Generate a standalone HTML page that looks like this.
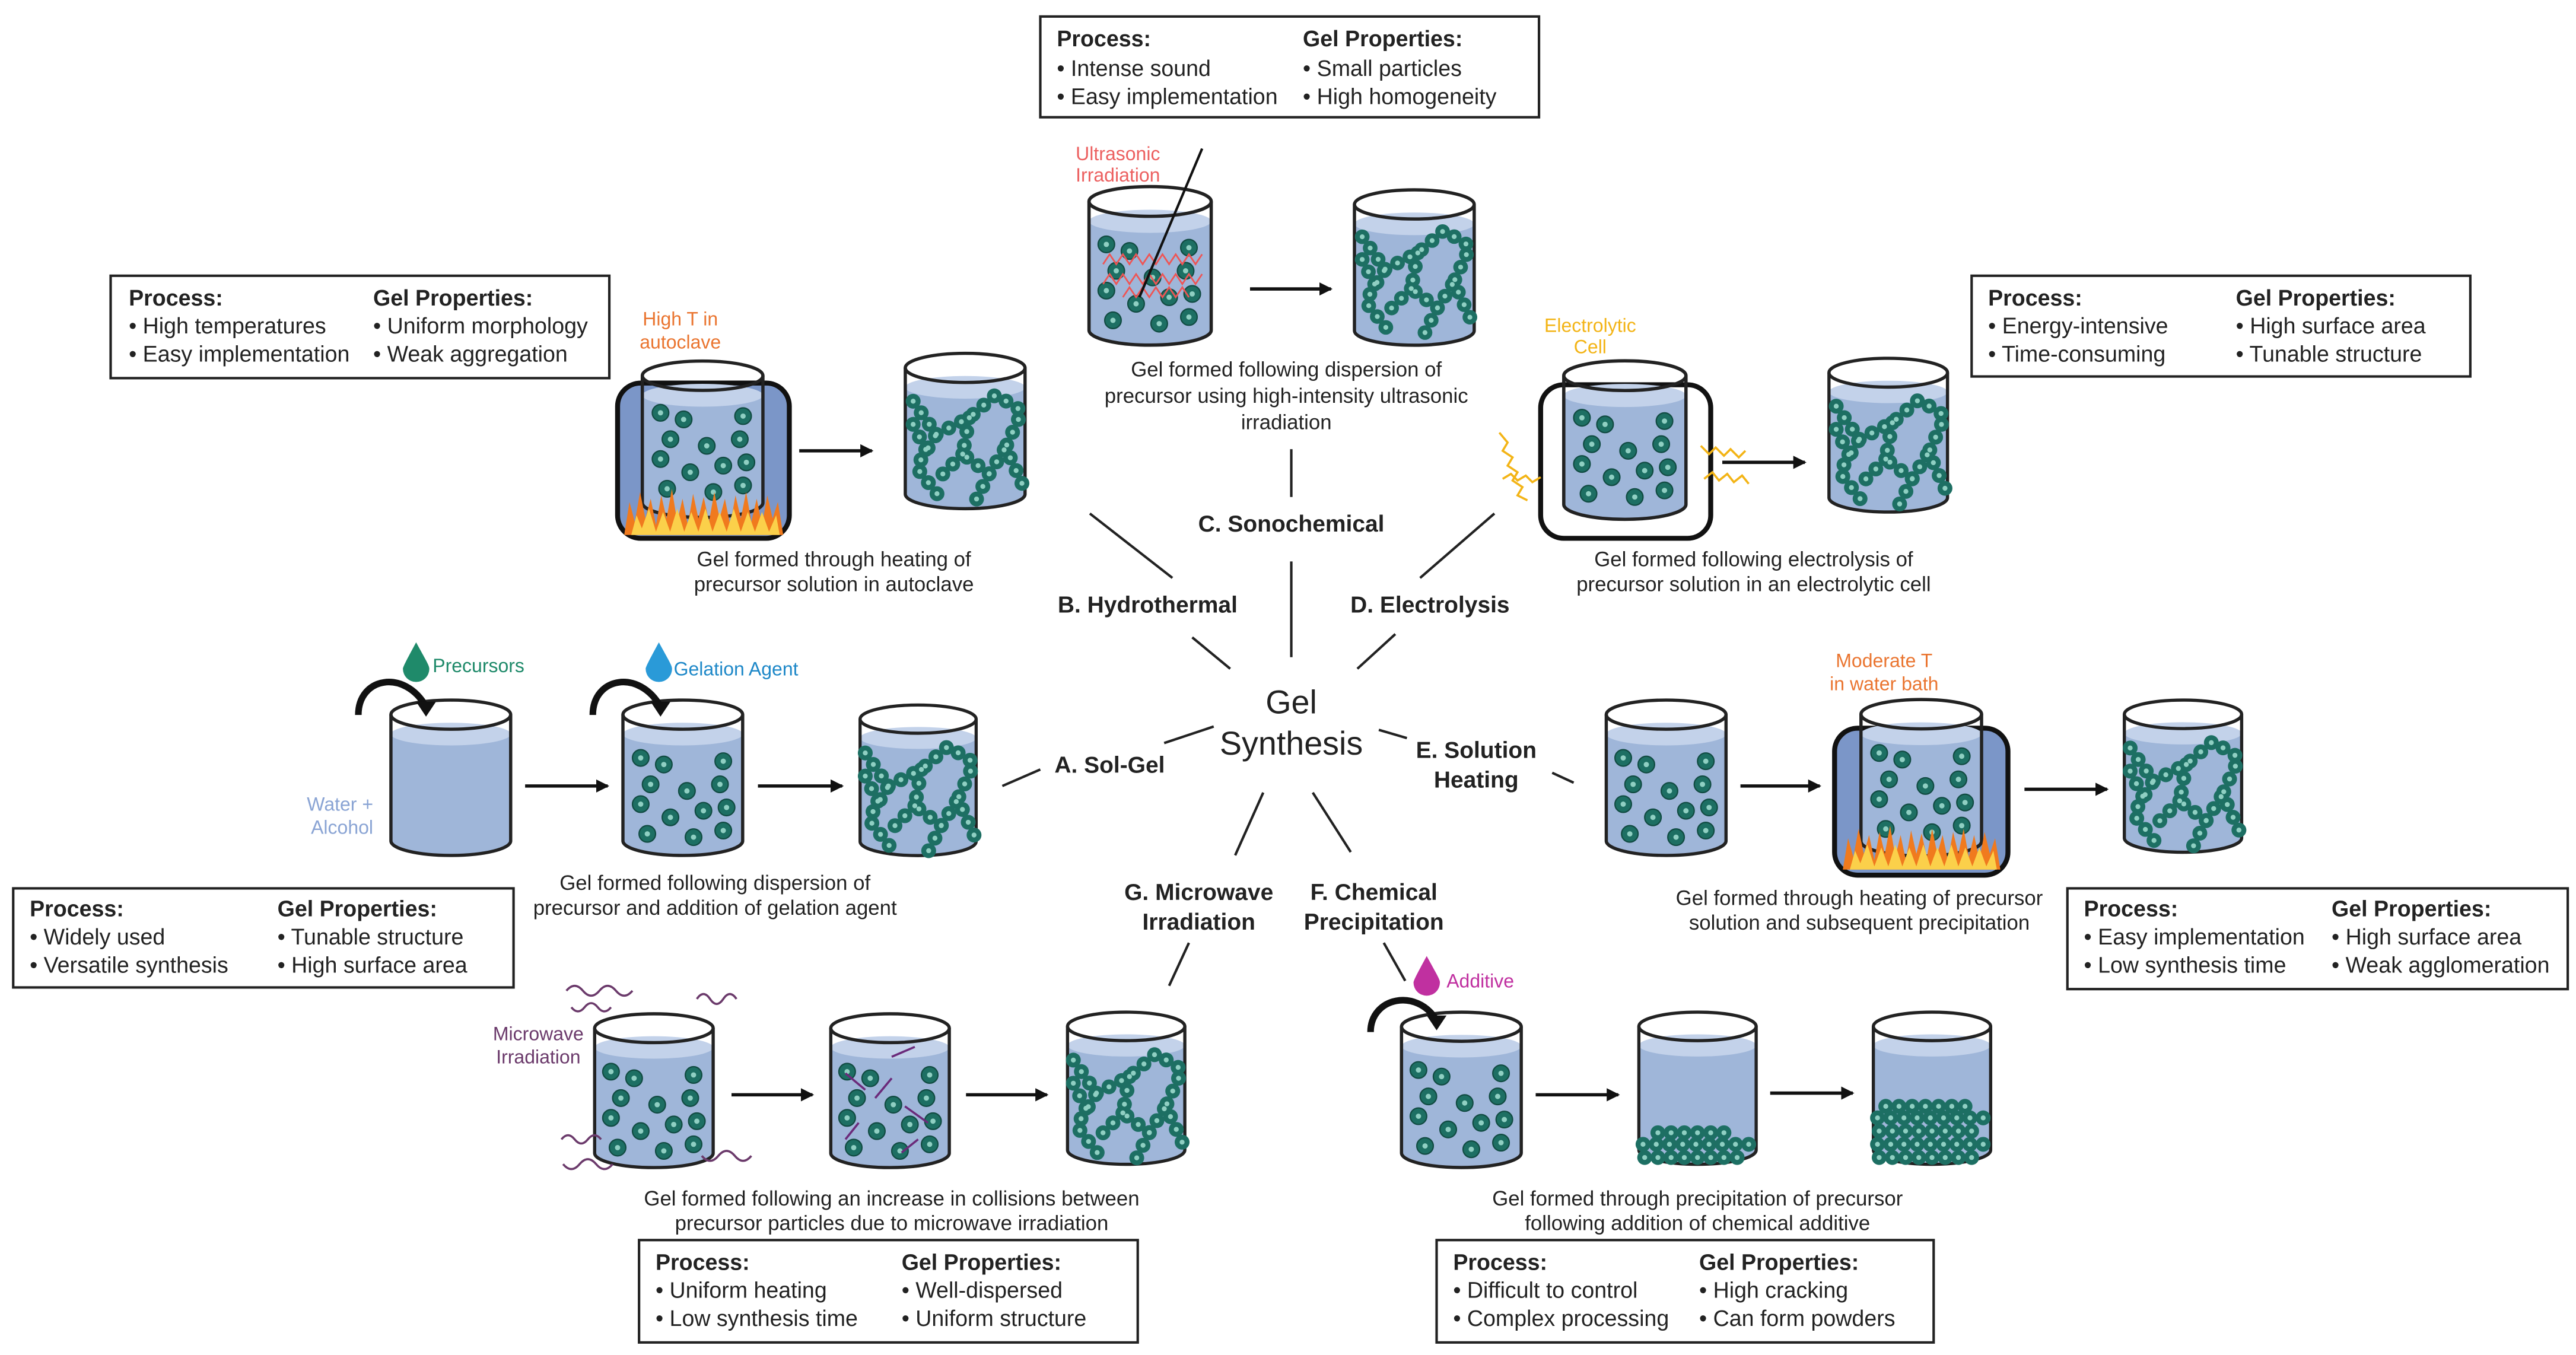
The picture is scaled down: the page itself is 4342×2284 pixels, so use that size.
<!DOCTYPE html>
<html><head><meta charset="utf-8">
<style>
html,body{margin:0;padding:0;background:#fff;}
svg{display:block;}
text{font-family:"Liberation Sans",sans-serif;fill:#222;}
.bt{font-size:13.5px;}
.bb{font-size:13.5px;font-weight:bold;}
.cap{font-size:12.5px;text-anchor:middle;}
.lab{font-size:14px;font-weight:bold;text-anchor:middle;}
.col{font-size:11.5px;}
</style></head><body>
<svg width="4342" height="2284" viewBox="0 0 1560 820.6" xmlns="http://www.w3.org/2000/svg">
<defs>
<marker id="ah" markerWidth="8" markerHeight="8" refX="7" refY="4" orient="auto" markerUnits="userSpaceOnUse">
<path d="M0,0 L8,4 L0,8 Z" fill="#111"/></marker>
<symbol id="bk" viewBox="0 0 76 100" overflow="visible">
<path d="M1,22 L1,88 A37,9 0 0 0 75,88 L75,22 Z" fill="#9fb6d9"/>
<ellipse cx="38" cy="22" rx="37" ry="7" fill="#c3d2ea"/>
<path d="M1,10 L1,88 A37,9 0 0 0 75,88 L75,10" fill="none" stroke="#222" stroke-width="2"/>
<ellipse cx="38" cy="10" rx="37" ry="9" fill="none" stroke="#222" stroke-width="2"/>
</symbol>
<symbol id="pt" viewBox="-6 -6 12 12" overflow="visible">
<circle r="5" fill="#1d6f63" stroke="#114b42" stroke-width="0.8"/>
<circle r="1.6" fill="#8fcfc2"/>
</symbol>
<g id="disp">
<use href="#pt" x="6" y="30" width="12" height="12"/><use href="#pt" x="20" y="34" width="12" height="12"/>
<use href="#pt" x="56" y="32" width="12" height="12"/><use href="#pt" x="12" y="46" width="12" height="12"/>
<use href="#pt" x="34" y="50" width="12" height="12"/><use href="#pt" x="54" y="46" width="12" height="12"/>
<use href="#pt" x="6" y="58" width="12" height="12"/><use href="#pt" x="24" y="66" width="12" height="12"/>
<use href="#pt" x="44" y="62" width="12" height="12"/><use href="#pt" x="58" y="60" width="12" height="12"/>
<use href="#pt" x="10" y="76" width="12" height="12"/><use href="#pt" x="38" y="78" width="12" height="12"/>
<use href="#pt" x="56" y="74" width="12" height="12"/>
</g>
<g id="net" fill="none" stroke-linecap="round">
<path d="M6,30 L20,50 L8,70 L22,88 M20,50 L40,40 L56,26 L72,36 L62,58 L72,80 M40,40 L36,62 L52,74 L62,58 M36,62 L22,76 M52,74 L44,90 M6,44 L14,60" stroke="#1d6f63" stroke-width="9" stroke-dasharray="0 8.5"/>
<path d="M6,30 L20,50 L8,70 L22,88 M20,50 L40,40 L56,26 L72,36 L62,58 L72,80 M40,40 L36,62 L52,74 L62,58 M36,62 L22,76 M52,74 L44,90 M6,44 L14,60" stroke="#8fcfc2" stroke-width="3" stroke-dasharray="0 8.5"/>
</g>
<g id="sett" fill="none" stroke-linecap="round">
<path d="M6,91 L70,91 M5,83 L71,83 M14,76 L62,76" stroke="#1d6f63" stroke-width="9" stroke-dasharray="0 8"/>
<path d="M6,91 L70,91 M5,83 L71,83 M14,76 L62,76" stroke="#8fcfc2" stroke-width="3" stroke-dasharray="0 8"/>
</g>
<g id="sett2" fill="none" stroke-linecap="round">
<path d="M6,91 L70,91 M5,83 L71,83 M6,75 L70,75 M5,67 L71,67 M10,60 L66,60" stroke="#1d6f63" stroke-width="9" stroke-dasharray="0 8"/>
<path d="M6,91 L70,91 M5,83 L71,83 M6,75 L70,75 M5,67 L71,67 M10,60 L66,60" stroke="#8fcfc2" stroke-width="3" stroke-dasharray="0 8"/>
</g>
<g id="flame">
<path d="M0,28 L3,8 L6,20 L9,2 L12,18 L15,6 L18,22 L21,4 L24,18 L27,0 L30,20 L33,6 L36,22 L39,3 L42,18 L45,5 L48,20 L51,2 L54,18 L57,6 L60,22 L63,4 L66,18 L69,2 L72,20 L75,6 L78,22 L81,4 L84,18 L87,8 L90,28 Z" fill="#f07a1e"/>
<path d="M4,28 L7,16 L10,24 L14,12 L18,26 L22,14 L26,26 L30,12 L34,26 L38,14 L42,26 L46,12 L50,26 L54,14 L58,26 L62,12 L66,26 L70,14 L74,26 L78,14 L82,26 L86,16 L88,28 Z" fill="#fbd04a"/>
</g>
</defs>

<!-- Boxes -->
<g>
<rect x="630" y="10" width="302" height="61" fill="#fff" stroke="#222" stroke-width="1.5"/>
<text class="bb" x="640" y="28">Process:</text><text class="bt" x="640" y="46">• Intense sound</text><text class="bt" x="640" y="63">• Easy implementation</text>
<text class="bb" x="789" y="28">Gel Properties:</text><text class="bt" x="789" y="46">• Small particles</text><text class="bt" x="789" y="63">• High homogeneity</text>

<rect x="67" y="167" width="302" height="62" fill="#fff" stroke="#222" stroke-width="1.5"/>
<text class="bb" x="78" y="185">Process:</text><text class="bt" x="78" y="202">• High temperatures</text><text class="bt" x="78" y="219">• Easy implementation</text>
<text class="bb" x="226" y="185">Gel Properties:</text><text class="bt" x="226" y="202">• Uniform morphology</text><text class="bt" x="226" y="219">• Weak aggregation</text>

<rect x="1194" y="167" width="302" height="61" fill="#fff" stroke="#222" stroke-width="1.5"/>
<text class="bb" x="1204" y="185">Process:</text><text class="bt" x="1204" y="202">• Energy-intensive</text><text class="bt" x="1204" y="219">• Time-consuming</text>
<text class="bb" x="1354" y="185">Gel Properties:</text><text class="bt" x="1354" y="202">• High surface area</text><text class="bt" x="1354" y="219">• Tunable structure</text>

<rect x="8" y="538" width="303" height="60" fill="#fff" stroke="#222" stroke-width="1.5"/>
<text class="bb" x="18" y="555">Process:</text><text class="bt" x="18" y="572">• Widely used</text><text class="bt" x="18" y="589">• Versatile synthesis</text>
<text class="bb" x="168" y="555">Gel Properties:</text><text class="bt" x="168" y="572">• Tunable structure</text><text class="bt" x="168" y="589">• High surface area</text>

<rect x="1252" y="538" width="303" height="61" fill="#fff" stroke="#222" stroke-width="1.5"/>
<text class="bb" x="1262" y="555">Process:</text><text class="bt" x="1262" y="572">• Easy implementation</text><text class="bt" x="1262" y="589">• Low synthesis time</text>
<text class="bb" x="1412" y="555">Gel Properties:</text><text class="bt" x="1412" y="572">• High surface area</text><text class="bt" x="1412" y="589">• Weak agglomeration</text>

<rect x="387" y="751" width="302" height="62" fill="#fff" stroke="#222" stroke-width="1.5"/>
<text class="bb" x="397" y="769">Process:</text><text class="bt" x="397" y="786">• Uniform heating</text><text class="bt" x="397" y="803">• Low synthesis time</text>
<text class="bb" x="546" y="769">Gel Properties:</text><text class="bt" x="546" y="786">• Well-dispersed</text><text class="bt" x="546" y="803">• Uniform structure</text>

<rect x="870" y="751" width="301" height="62" fill="#fff" stroke="#222" stroke-width="1.5"/>
<text class="bb" x="880" y="769">Process:</text><text class="bt" x="880" y="786">• Difficult to control</text><text class="bt" x="880" y="803">• Complex processing</text>
<text class="bb" x="1029" y="769">Gel Properties:</text><text class="bt" x="1029" y="786">• High cracking</text><text class="bt" x="1029" y="803">• Can form powders</text>
</g>

<!-- Center -->
<text x="782" y="432" font-size="20" text-anchor="middle">Gel</text>
<text x="782" y="457" font-size="20" text-anchor="middle">Synthesis</text>
<text class="lab" x="782" y="322">C. Sonochemical</text>
<text class="lab" x="695" y="371">B. Hydrothermal</text>
<text class="lab" x="866" y="371">D. Electrolysis</text>
<text class="lab" x="672" y="468">A. Sol-Gel</text>
<text class="lab" x="894" y="459">E. Solution</text><text class="lab" x="894" y="477">Heating</text>
<text class="lab" x="726" y="545">G. Microwave</text><text class="lab" x="726" y="563">Irradiation</text>
<text class="lab" x="832" y="545">F. Chemical</text><text class="lab" x="832" y="563">Precipitation</text>
<g stroke="#222" stroke-width="1.5">
<line x1="782" y1="272" x2="782" y2="301"/><line x1="782" y1="340" x2="782" y2="398"/>
<line x1="660" y1="311" x2="710" y2="350"/><line x1="722" y1="386" x2="745" y2="405"/>
<line x1="905" y1="311" x2="860" y2="350"/><line x1="845" y1="384" x2="822" y2="405"/>
<line x1="607" y1="476" x2="630" y2="466"/><line x1="705" y1="450" x2="735" y2="440"/>
<line x1="835" y1="442" x2="852" y2="447"/><line x1="940" y1="468" x2="953" y2="474"/>
<line x1="765" y1="480" x2="748" y2="518"/><line x1="720" y1="571" x2="708" y2="597"/>
<line x1="795" y1="480" x2="818" y2="516"/><line x1="838" y1="571" x2="851" y2="594"/>
</g>

<!-- Arrows -->
<g stroke="#111" stroke-width="2" marker-end="url(#ah)">
<line x1="757" y1="175" x2="806" y2="175"/>
<line x1="484" y1="273" x2="528" y2="273"/>
<line x1="1043" y1="280" x2="1093" y2="280"/>
<line x1="318" y1="476" x2="368" y2="476"/>
<line x1="459" y1="476" x2="510" y2="476"/>
<line x1="1054" y1="476" x2="1102" y2="476"/>
<line x1="1226" y1="478" x2="1276" y2="478"/>
<line x1="443" y1="663" x2="492" y2="663"/>
<line x1="585" y1="663" x2="634" y2="663"/>
<line x1="930" y1="663" x2="980" y2="663"/>
<line x1="1072" y1="662" x2="1122" y2="662"/>
</g>

<!-- Sonochemical -->
<use href="#bk" x="658" y="112" width="77" height="100"/>
<use href="#disp" transform="translate(658,112)"/>
<path d="M668,160 l4,-6 l4,6 l4,-6 l4,6 l4,-6 l4,6 l4,-6 l4,6 l4,-6 l4,6 l4,-6 l4,6 l4,-6 l4,6 l4,-6 M668,172 l4,-6 l4,6 l4,-6 l4,6 l4,-6 l4,6 l4,-6 l4,6 l4,-6 l4,6 l4,-6 l4,6 l4,-6 l4,6 l4,-6 M680,180 l4,-6 l4,6 l4,-6 l4,6 l4,-6 l4,6 l4,-6 l4,6 l4,-6 l4,6" fill="none" stroke="#ee5555" stroke-width="1"/>
<line x1="728" y1="90" x2="690" y2="180" stroke="#111" stroke-width="1.5"/>
<text class="col" x="677" y="97" text-anchor="middle" style="fill:#ec6060">Ultrasonic</text>
<text class="col" x="677" y="110" text-anchor="middle" style="fill:#ec6060">Irradiation</text>
<use href="#bk" x="819" y="114" width="75" height="98"/>
<use href="#net" transform="translate(819,114) scale(0.99,0.98)"/>
<text class="cap" x="779" y="228">Gel formed following dispersion of</text>
<text class="cap" x="779" y="244">precursor using high-intensity ultrasonic</text>
<text class="cap" x="779" y="260">irradiation</text>

<!-- Hydrothermal -->
<rect x="374" y="232" width="104" height="94" rx="14" fill="#7b96c8" stroke="#111" stroke-width="3"/>
<use href="#bk" x="388" y="214" width="75" height="106"/>
<use href="#disp" transform="translate(388,214)"/>
<use href="#flame" transform="translate(378,296) scale(1.07,1)"/>
<text class="col" x="412" y="197" text-anchor="middle" style="fill:#ea7530">High T in</text>
<text class="col" x="412" y="211" text-anchor="middle" style="fill:#ea7530">autoclave</text>
<use href="#bk" x="547" y="213" width="75" height="98"/>
<use href="#net" transform="translate(547,213)"/>
<text class="cap" x="505" y="343">Gel formed through heating of</text>
<text class="cap" x="505" y="358">precursor solution in autoclave</text>

<!-- Electrolysis -->
<rect x="933" y="233" width="103" height="93" rx="14" fill="none" stroke="#111" stroke-width="3"/>
<use href="#bk" x="946" y="217" width="76" height="101"/>
<use href="#disp" transform="translate(946,217)"/>
<path d="M908,262 l5,6 l-3,5 l6,4 l-3,5 l6,4 l-3,5 l6,4 l-3,5 l6,3 M910,290 l5,-3 l4,4 l5,-3 l4,4 l5,-3 M1030,270 l5,5 l4,-4 l5,5 l4,-4 l5,5 l4,-4 M1032,290 l5,-4 l4,5 l5,-4 l4,5 l5,-4 l4,5" fill="none" stroke="#f3b416" stroke-width="1.3"/>
<text class="col" x="963" y="201" text-anchor="middle" style="fill:#f3b416">Electrolytic</text>
<text class="col" x="963" y="214" text-anchor="middle" style="fill:#f3b416">Cell</text>
<use href="#bk" x="1106" y="216" width="75" height="97"/>
<use href="#net" transform="translate(1106,216)"/>
<text class="cap" x="1062" y="343">Gel formed following electrolysis of</text>
<text class="cap" x="1062" y="358">precursor solution in an electrolytic cell</text>

<!-- Sol-gel -->
<use href="#bk" x="235" y="423" width="76" height="98"/>
<use href="#bk" x="376" y="423" width="75" height="98"/>
<use href="#disp" transform="translate(376,423)"/>
<use href="#bk" x="518" y="426" width="76" height="95"/>
<use href="#net" transform="translate(518,426)"/>
<path d="M217,433 C217,410 245,405 258,428" fill="none" stroke="#111" stroke-width="4"/>
<path d="M252,425 L264,425 L258,434 Z" fill="#111"/>
<path d="M359,433 C359,410 387,405 400,428" fill="none" stroke="#111" stroke-width="4"/>
<path d="M394,425 L406,425 L400,434 Z" fill="#111"/>
<path d="M252,389 C246,400 244,404 244,405 A8,8 0 0 0 260,405 C260,403 258,400 252,389 Z" fill="#1f8a6a"/>
<path d="M399,389 C393,400 391,404 391,405 A8,8 0 0 0 407,405 C407,403 405,400 399,389 Z" fill="#2a9ad8"/>
<text class="col" x="262" y="407" style="fill:#1f8a6a">Precursors</text>
<text class="col" x="408" y="409" style="fill:#1e88c8">Gelation Agent</text>
<text class="col" x="226" y="491" text-anchor="end" style="fill:#8aa4d4">Water +</text>
<text class="col" x="226" y="505" text-anchor="end" style="fill:#8aa4d4">Alcohol</text>
<text class="cap" x="433" y="539">Gel formed following dispersion of</text>
<text class="cap" x="433" y="554">precursor and addition of gelation agent</text>

<!-- Solution heating -->
<use href="#bk" x="971" y="423" width="76" height="98"/>
<use href="#disp" transform="translate(971,423)"/>
<rect x="1111" y="441" width="105" height="89" rx="14" fill="#7b96c8" stroke="#111" stroke-width="3"/>
<use href="#bk" x="1126" y="420" width="75" height="104"/>
<use href="#disp" transform="translate(1126,420)"/>
<use href="#flame" transform="translate(1116,500) scale(1.06,0.95)"/>
<text class="col" x="1141" y="404" text-anchor="middle" style="fill:#ea7530">Moderate T</text>
<text class="col" x="1141" y="418" text-anchor="middle" style="fill:#ea7530">in water bath</text>
<use href="#bk" x="1284" y="423" width="76" height="96"/>
<use href="#net" transform="translate(1284,423)"/>
<text class="cap" x="1126" y="548">Gel formed through heating of precursor</text>
<text class="cap" x="1126" y="563">solution and subsequent precipitation</text>

<!-- Microwave -->
<use href="#bk" x="358" y="613" width="76" height="97"/>
<use href="#disp" transform="translate(358,613)"/>
<path d="M343,600 q5,-6 10,0 t10,0 t10,0 t10,0 M346,610 q4,5 8,0 t8,0 t8,0 M422,605 q4,-6 8,0 t8,0 t8,0 M425,700 q5,6 10,0 t10,0 t10,0 M341,705 q5,6 10,0 t10,0 t10,0 M340,690 q4,-5 8,0 t8,0 t8,0" fill="none" stroke="#6b3a6b" stroke-width="1.3"/>
<text class="col" x="326" y="630" text-anchor="middle" style="fill:#6b3a6b">Microwave</text>
<text class="col" x="326" y="644" text-anchor="middle" style="fill:#6b3a6b">Irradiation</text>
<use href="#bk" x="501" y="613" width="76" height="97"/>
<use href="#disp" transform="translate(501,613)"/>
<g stroke="#6b2a7a" stroke-width="1.3" fill="none">
<path d="M512,650 l12,10 M540,640 l14,-6 M520,680 l-8,10 M548,670 l14,10 M530,665 l10,-12 M556,690 l-10,8"/>
</g>
<use href="#bk" x="644" y="612" width="76" height="96"/>
<use href="#net" transform="translate(644,612)"/>
<text class="cap" x="540" y="730">Gel formed following an increase in collisions between</text>
<text class="cap" x="540" y="745">precursor particles due to microwave irradiation</text>

<!-- Chemical precipitation -->
<use href="#bk" x="847" y="612" width="76" height="98"/>
<use href="#disp" transform="translate(847,612)"/>
<path d="M830,625 C830,604 858,598 870,618" fill="none" stroke="#111" stroke-width="4"/>
<path d="M864,615 L876,615 L870,624 Z" fill="#111"/>
<path d="M864,579 C858,590 856,594 856,595 A8,8 0 0 0 872,595 C872,593 870,590 864,579 Z" fill="#c030a0"/>
<text class="col" x="876" y="598" style="fill:#c030a0">Additive</text>
<use href="#bk" x="990" y="612" width="76" height="96"/>
<use href="#sett" transform="translate(990,610)"/>
<use href="#bk" x="1132" y="612" width="76" height="96"/>
<use href="#sett2" transform="translate(1132,610)"/>
<text class="cap" x="1028" y="730">Gel formed through precipitation of precursor</text>
<text class="cap" x="1028" y="745">following addition of chemical additive</text>
</svg>
</body></html>
